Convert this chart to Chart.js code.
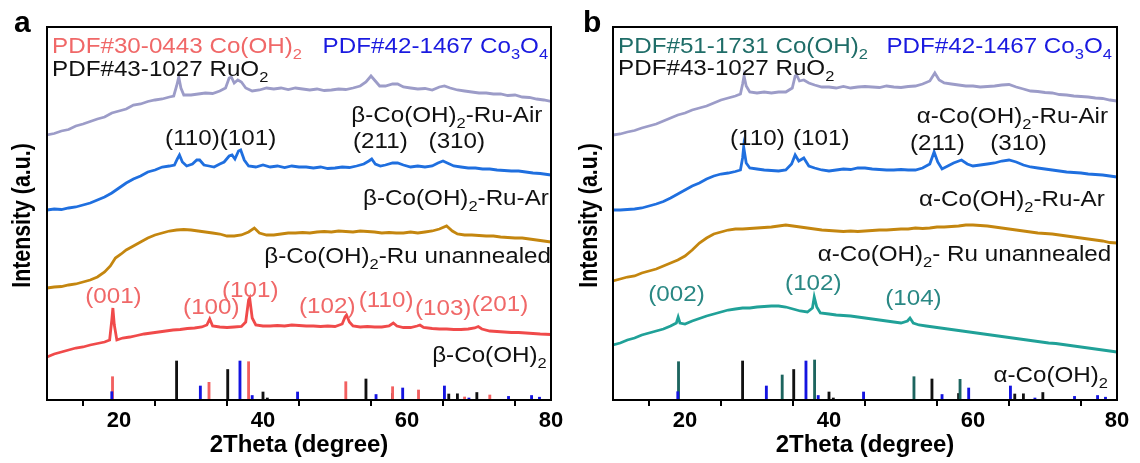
<!DOCTYPE html>
<html>
<head>
<meta charset="utf-8">
<script src="https://cdn.jsdelivr.net/npm/chart.js@4.4.0/dist/chart.umd.min.js"></script>
<style>
body { margin: 0; background: #fff; }
#wrap { position: relative; width: 1140px; height: 463px; }
.panel { position: absolute; top: 0; width: 570px; height: 463px; }
</style>
</head>
<body>
<div id="wrap">
  <div class="panel" style="left:0"><canvas id="chartA"></canvas></div>
  <div class="panel" style="left:570px"><canvas id="chartB"></canvas></div>
</div>
<script>
// x axis
const thetaMin = 10, thetaMax = 80;
const tickLabels = [20, 40, 60, 80];

// panel a curves: [2theta, intensity a.u.]
const airA = [[10,265],[11,266.5],[12,269],[13,270.5],[14,274],[15,276],[16,278.5],[17,281],[18,283],[19,287],[20,289],[21,291],[22,295],[23,296],[24,298.5],[25,300],[26,301],[27,303],[27.6,304],[28,314],[28.3,323],[28.6,312],[29,305],[30,305],[31,306],[32,307],[33,306.5],[34,309],[34.8,312],[35.3,322],[35.6,323],[36,317],[36.5,320],[37,318],[37.6,312],[38.5,309],[39.5,310],[40.5,312],[41.5,311],[42.5,312],[43.5,310.5],[44.5,312],[45.5,311],[46.5,310],[47.5,311],[48.5,309.5],[49.5,310],[50.5,311],[51.5,310.5],[52.5,312],[53.5,314],[54.3,318],[55,324],[55.6,319],[56.2,314],[57,314],[58,316],[58.7,316],[59.5,313],[60.5,312],[61.5,311],[62.5,311.5],[63.5,310],[64.5,313],[65.2,314],[66,312],[67,310],[68,309],[69,308],[70,307],[71,307],[72,306],[73,306],[74,304.5],[75,305],[76,303],[77,302.5],[78,301],[79,300],[80,298.5]];
const arA = [[10,190],[11,191],[12,190.5],[13,192],[14,193],[15,195],[16,197],[17,200],[18,203],[19,207],[20,212],[21,217],[22,221],[23,224],[24,228],[25,230],[26,233],[27,234],[27.7,235],[28.1,241],[28.4,245],[28.8,238],[29.4,234],[30.2,236],[30.8,240],[31.2,240],[31.8,235],[32.5,234],[33.2,233],[34,236],[34.6,238],[35.3,244],[35.7,245],[36.1,241],[36.6,249],[36.9,250],[37.4,240],[38,234],[39,233],[40,235],[41,233],[42,234],[43,232.5],[44,234],[45,233],[46,233],[47,232],[48,233],[49,231.5],[50,232],[51,233],[52,232.5],[53,234],[54,236],[54.7,239],[55.1,241],[55.6,236],[56.3,234],[57,235],[58,237],[58.7,237],[59.5,235],[60.5,233],[61.5,234],[62.5,233],[63.5,234],[64.3,237],[65,239],[65.6,237],[66.5,234],[67.5,233],[68.5,232],[69.5,232],[70.5,231],[71.5,231],[72.5,230],[73.5,229.5],[74.5,229],[75.5,229],[76.5,228],[77.5,227],[78.5,226.5],[79.5,225.5],[80,225]];
const unA = [[10,112],[11,113],[12,113.5],[13,115],[14,116],[15,118],[16,120],[17,123],[18,128],[18.8,134],[19.5,142],[20.3,146],[21,150],[22,154],[23,158],[24,162],[25,165],[26,167],[27,169],[28,170],[29,170.5],[30,170],[31,169],[32,168],[33,167],[34,166],[35,164],[36,164],[37,165],[38,168],[38.8,172],[39.5,167],[40.5,165],[41.5,165],[42.5,166],[43.5,167],[44.5,167],[45.5,167.5],[46.5,167],[47.5,168],[48.5,168.5],[49.5,168],[50.5,169],[51.5,168.5],[52.5,168],[53.5,169],[54.5,168.5],[55.5,168],[56.5,167],[57.5,167.5],[58.5,167],[59.5,167],[60.5,168],[61.5,167],[62.5,168],[63.5,169],[64.5,171],[65.5,174],[66.3,169],[67,166],[68,165],[69,165],[70,164.5],[71,164],[72,164],[73,163],[74,162.5],[75,162],[76,162],[77,161],[78,160],[79,159],[80,158]];
const bareA = [[10,43],[11,46],[12,48],[13,50],[14,52],[15,53],[16,55],[17,56.5],[18,58],[18.7,60],[19,80],[19.15,92],[19.35,75],[19.7,60],[20.5,62],[21.5,63],[22.5,64.5],[23.5,66],[24.5,67],[25.5,68],[26.5,69],[27.5,70],[28.5,70.5],[29.5,71.5],[30.5,72],[31.5,73],[32.2,75],[32.6,81],[33,74],[34,73],[35,72.5],[36,73],[37,73.5],[37.6,78],[38,100],[38.15,102],[38.5,82],[39,75],[40,74],[41,74],[42,74.5],[43,74],[44,75],[45,74.5],[46,74],[47,74],[48,73.5],[49,74],[50,73.5],[51,76],[51.4,83],[51.6,85],[52,78],[52.5,74],[53.5,73],[54.5,73.5],[55.5,73],[56.5,73],[57.5,74],[58.1,77],[58.6,74],[59.5,72.5],[60.5,72.5],[61.4,74],[61.8,75],[62.3,72.5],[63.5,71.5],[64.5,71],[65.5,71],[66.5,70.5],[67.5,70.5],[68.5,71],[69.4,72],[69.9,73.5],[70.4,71],[71.5,69],[72.5,68.5],[73.5,68],[74.5,67.5],[75.5,67.5],[76.5,67],[77.5,66.5],[78.5,66],[80,65.5]];

// panel b curves
const airB = [[10,265],[11,266],[12,268],[13,269.5],[14,272],[15,274],[16,276],[17,279],[18,282],[19,285],[20,287],[21,290],[22,292],[23,294],[24,297],[25,300],[26,302],[27,304],[27.7,306],[28,316],[28.2,324],[28.5,314],[29,308],[30,307],[31,308],[32,307],[33,308],[34,308],[34.9,312],[35.3,324],[35.5,325],[35.9,319],[36.5,320],[37.2,317],[38,315],[39,313],[40,313],[41,312],[42,313.5],[43,312],[44,313],[45,313.5],[46,313],[47,312.5],[48,314],[49,313],[50,312.5],[51,313.5],[52,314],[53,316],[54,319],[54.7,327],[55.3,320],[56,317],[57,316],[58,315],[59,314],[60,314],[61,313],[62,313.5],[63,314],[64,315],[65,315.5],[66,313],[67,311],[68,309],[69,308.5],[70,307.5],[71,307],[72,305.5],[73,305],[74,304],[75,303.5],[76,303],[77,302],[78,301.5],[79,300],[80,299]];
const arB = [[10,190],[11,190],[12,190.5],[13,191],[14,192],[15,194],[16,196],[17,198.5],[18,202],[19,206],[20,210],[21,214],[22,217],[23,221],[24,224],[25,226],[26,227],[27,228.5],[27.7,230],[28,242],[28.15,253],[28.5,237],[29,232],[30,231],[31,230],[32,229.5],[33,229],[34,230],[34.8,236],[35.3,245],[35.8,239],[36.5,242],[37.2,234],[38,232],[39,230],[40,229],[41,230],[42,231],[43,230.5],[44,232],[45,232],[46,231],[47,230.5],[48,230],[49,230],[50,230.5],[51,230],[52,230],[53,232],[54,236],[54.6,248],[55.1,238],[55.7,231],[56.5,234],[57.3,237],[58.4,240],[59.2,236],[60,234],[61,235],[62,236],[63,237],[64,239],[65,240],[66,238],[67,235],[68,233],[69,232],[70,231],[71,230],[72,229],[73,228],[74,227.5],[75,227],[76,226],[77,225.5],[78,225],[79,224],[80,223]];
const unB = [[10,119],[11,121],[12,123],[13,124],[14,127],[15,129],[16,131],[17,134],[18,137],[19,140],[20,144],[21,150],[22,157],[23,162],[24,166],[25,168],[26,170],[27,171],[28,171],[29,171.5],[30,172],[31,172.5],[32,173],[33,174],[34,175],[35,174],[36,173],[37,172],[38,171],[39,170],[40,169.5],[41,169],[42,168.5],[43,169],[44,168.5],[45,169],[46,169.5],[47,170],[48,170],[49,170.5],[50,171],[51,171],[52,172],[53,171.5],[54,172],[55,173],[56,173],[57,173.5],[58,174],[59,175],[60,175],[61,174.5],[62,174],[63,173],[64,172],[65,171],[66,170],[67,169],[68,168],[69,167],[70,166.5],[71,166],[72,165],[73,164],[74,163],[75,162],[76,161],[77,160],[78,159],[79,157.5],[80,157]];
const bareB = [[10,55],[11,57],[12,60],[13,62],[14,65],[15,67],[16,69],[17,71],[18,74],[18.8,77],[19.05,83],[19.3,77],[20,76],[21,79],[22,81.5],[23,84],[24,86],[25,88],[26,90],[27,91],[28,92],[29,92],[30,93],[31,93.5],[32,94],[33,94],[34,93],[35,91],[36,89],[37,88],[37.7,92],[37.95,103],[38.3,93],[38.8,87],[40,86],[41,85],[42,84.5],[43,84],[44,83],[45,82],[46,81],[47,80],[48,79],[49,78],[50,77],[50.9,79],[51.25,82],[51.7,77],[52.5,75],[53.5,74],[54.5,73],[55.5,72],[56.5,71],[57.5,70],[58.5,69],[59.5,68],[60.5,67],[61.5,66],[62.5,65],[63.5,64],[64.5,63],[65.5,62],[66.5,61],[67.5,60],[68.5,59],[69.5,58],[70.5,57],[71.5,56.5],[72.5,55.5],[73.5,54.5],[74.5,53.5],[75.5,52.5],[76.5,51.5],[77.5,50.5],[78.5,49.5],[80,48]];

// reference patterns (stick heights)
const betaCoOH2Sticks = [[19.1,23.3],[32.5,17.7],[38.0,38.3],[51.5,18.3],[58.0,13.3],[61.6,10],[68.0,3],[71.5,5]];
const alphaCoOH2Sticks = [[19.1,38.3],[33.5,25],[38.0,40],[51.8,23.3],[58.2,20.7]];
const ruo2Sticks = [[28.0,39],[35.1,30.5],[40.0,8],[40.6,2],[54.3,21],[58.0,6.5],[65.8,6],[67.0,6.2],[69.7,7.5]];
const co3o4Sticks = [[19.0,8.3],[31.3,14],[36.8,39],[38.5,4.5],[44.8,8],[55.7,5.5],[59.4,12],[65.2,14],[68.6,2],[74.1,3.6],[77.3,4.5],[78.4,2.8]];

const C = {
  air: '#9c9cc8', ar: '#1f6fdf', un: '#c4860f', red: '#f04a4a', teal: '#20a198',
  stickRed: '#f26060', stickTeal: '#1d655f', stickBlack: '#111111', stickBlue: '#1414e0',
  txtRed: '#f06868', txtTeal: '#2a8884', txtDarkTeal: '#1f6d68', txtBlue: '#1a1ae0', txtBlack: '#111111'
};
const FONT = '"Liberation Sans", Arial, sans-serif';

const labelsA = [
  { text: 'PDF#30-0443 Co(OH)_2', x: 10.7, y: 347, color: C.txtRed, align: 'left' },
  { text: 'PDF#42-1467 Co_3O_4', x: 79.6, y: 347, color: C.txtBlue, align: 'right' },
  { text: 'PDF#43-1027 RuO_2', x: 10.7, y: 324, color: C.txtBlack, align: 'left' },
  { text: 'β-Co(OH)_2-Ru-Air', x: 78.8, y: 278, color: C.txtBlack, align: 'right' },
  { text: '(110)(101)', x: 26.4, y: 255, color: C.txtBlack, align: 'left' },
  { text: '(211)', x: 52.5, y: 252, color: C.txtBlack, align: 'left' },
  { text: '(310)', x: 63.0, y: 252, color: C.txtBlack, align: 'left' },
  { text: 'β-Co(OH)_2-Ru-Ar', x: 79.7, y: 195, color: C.txtBlack, align: 'right' },
  { text: 'β-Co(OH)_2-Ru unannealed', x: 80, y: 137, color: C.txtBlack, align: 'right' },
  { text: '(001)', x: 15.3, y: 97, color: C.txtRed, align: 'left' },
  { text: '(100)', x: 28.9, y: 86, color: C.txtRed, align: 'left' },
  { text: '(101)', x: 34.3, y: 103, color: C.txtRed, align: 'left' },
  { text: '(102)', x: 45.0, y: 87, color: C.txtRed, align: 'left' },
  { text: '(110)', x: 53.3, y: 93, color: C.txtRed, align: 'left' },
  { text: '(103)', x: 61.1, y: 85, color: C.txtRed, align: 'left' },
  { text: '(201)', x: 69.0, y: 89, color: C.txtRed, align: 'left' },
  { text: 'β-Co(OH)_2', x: 79.4, y: 38, color: C.txtBlack, align: 'right' }
];
const labelsB = [
  { text: 'PDF#51-1731 Co(OH)_2', x: 10.7, y: 347, color: C.txtDarkTeal, align: 'left' },
  { text: 'PDF#42-1467 Co_3O_4', x: 79.3, y: 347, color: C.txtBlue, align: 'right' },
  { text: 'PDF#43-1027 RuO_2', x: 10.7, y: 325, color: C.txtBlack, align: 'left' },
  { text: 'α-Co(OH)_2-Ru-Air', x: 78.75, y: 277, color: C.txtBlack, align: 'right' },
  { text: '(110)', x: 26.25, y: 255, color: C.txtBlack, align: 'left' },
  { text: '(101)', x: 35.0, y: 255, color: C.txtBlack, align: 'left' },
  { text: '(211)', x: 51.25, y: 250, color: C.txtBlack, align: 'left' },
  { text: '(310)', x: 62.4, y: 250, color: C.txtBlack, align: 'left' },
  { text: 'α-Co(OH)_2-Ru-Ar', x: 78.3, y: 194, color: C.txtBlack, align: 'right' },
  { text: 'α-Co(OH)_2- Ru unannealed', x: 79.2, y: 139, color: C.txtBlack, align: 'right' },
  { text: '(002)', x: 14.9, y: 99, color: C.txtTeal, align: 'left' },
  { text: '(102)', x: 33.9, y: 110, color: C.txtTeal, align: 'left' },
  { text: '(104)', x: 47.8, y: 95, color: C.txtTeal, align: 'left' },
  { text: 'α-Co(OH)_2', x: 78.75, y: 18, color: C.txtBlack, align: 'right' }
];

// split "Co(OH)_2" into normal / subscript runs
function parseRich(text) {
  const runs = [];
  let buf = '';
  for (let i = 0; i < text.length; i++) {
    if (text[i] === '_' && i + 1 < text.length) {
      if (buf) runs.push({ t: buf, sub: false });
      buf = '';
      runs.push({ t: text[i + 1], sub: true });
      i++;
    } else {
      buf += text[i];
    }
  }
  if (buf) runs.push({ t: buf, sub: false });
  return runs;
}

function drawRich(ctx, text, x, y, align, color, size, stretch) {
  const runs = parseRich(text);
  const subSize = Math.round(size * 0.66);
  let w = 0;
  runs.forEach(r => {
    ctx.font = (r.sub ? subSize : size) + 'px ' + FONT;
    r.w = ctx.measureText(r.t).width;
    w += r.w;
  });
  ctx.save();
  ctx.translate(align === 'right' ? x - w * stretch : x, y);
  ctx.scale(stretch, 1);
  ctx.fillStyle = color;
  ctx.textBaseline = 'alphabetic';
  ctx.textAlign = 'left';
  let cx = 0;
  runs.forEach(r => {
    ctx.font = (r.sub ? subSize : size) + 'px ' + FONT;
    ctx.fillText(r.t, cx, r.sub ? size * 0.28 : 0);
    cx += r.w;
  });
  ctx.restore();
}

const xrdPlugin = {
  id: 'xrdText',
  afterDatasetsDraw(chart, args, opts) {
    const { ctx, chartArea: a, scales } = chart;
    ctx.save();
    ctx.strokeStyle = '#000';
    ctx.lineWidth = 2;
    ctx.strokeRect(a.left, a.top, a.right - a.left, a.bottom - a.top);
    (opts.items || []).forEach(it => {
      drawRich(ctx, it.text, scales.x.getPixelForValue(it.x), scales.y.getPixelForValue(it.y),
        it.align, it.color, 22, 1.1);
    });
    // panel letter
    ctx.font = 'bold 30px ' + FONT;
    ctx.fillStyle = '#000';
    ctx.textAlign = 'left';
    ctx.textBaseline = 'alphabetic';
    ctx.fillText(opts.letter, opts.letterX, 32);
    // y axis title, tall and condensed like the original
    ctx.translate(opts.yTitleX, (a.top + a.bottom) / 2 + 2);
    ctx.rotate(-Math.PI / 2);
    ctx.scale(0.82, 1);
    ctx.font = 'bold 26px ' + FONT;
    ctx.textAlign = 'center';
    ctx.textBaseline = 'middle';
    ctx.fillText('Intensity (a.u.)', 0, 0);
    ctx.restore();
  }
};

function toXY(arr) { return arr.map(p => ({ x: p[0], y: p[1] })); }

function lineSet(arr, color) {
  return { type: 'line', data: toXY(arr), borderColor: color, borderWidth: 2.8,
    pointRadius: 0, tension: 0, fill: false, order: 1 };
}
function stickSet(arr, color, order) {
  return { type: 'bar', data: toXY(arr), backgroundColor: color, borderWidth: 0,
    barThickness: 2.2, grouped: false, order: order };
}

function makePanel(id, curves, sticks, items, yWidth, padRight, letter, letterX, yTitleX) {
  new Chart(document.getElementById(id), {
    type: 'line',
    data: { datasets: curves.concat(sticks) },
    options: {
      responsive: true,
      maintainAspectRatio: false,
      devicePixelRatio: 1,
      animation: false,
      layout: { padding: { top: 27, right: padRight, left: 0, bottom: 0 } },
      plugins: {
        legend: { display: false },
        tooltip: { enabled: false },
        xrdText: { items: items, letter: letter, letterX: letterX, yTitleX: yTitleX }
      },
      scales: {
        x: {
          type: 'linear', min: thetaMin, max: thetaMax, offset: false,
          border: { display: true, color: '#000', width: 2 },
          grid: { display: true, drawOnChartArea: false, drawTicks: true, tickLength: 6, color: '#000', lineWidth: 2 },
          ticks: {
            stepSize: 10, color: '#000', padding: 2, maxRotation: 0,
            font: { family: FONT, size: 22, weight: 'bold' },
            callback: v => tickLabels.includes(v) ? String(v) : ''
          },
          title: { display: true, text: '2Theta (degree)', color: '#000',
            font: { family: FONT, size: 24, weight: 'bold' }, padding: { top: 0, bottom: 3 } },
          afterFit: s => { s.height = 63; }
        },
        y: {
          min: 0, max: 373,
          border: { display: true, color: '#000', width: 2 },
          grid: { display: false },
          ticks: { display: false },
          title: { display: false },
          afterFit: s => { s.width = yWidth; }
        }
      }
    },
    plugins: [xrdPlugin]
  });
}

makePanel('chartA',
  [lineSet(airA, C.air), lineSet(arA, C.ar), lineSet(unA, C.un), lineSet(bareA, C.red)],
  [stickSet(co3o4Sticks, C.stickBlue, 2), stickSet(betaCoOH2Sticks, C.stickRed, 3), stickSet(ruo2Sticks, C.stickBlack, 4)],
  labelsA, 47, 19, 'a', 14, 23);

makePanel('chartB',
  [lineSet(airB, C.air), lineSet(arB, C.ar), lineSet(unB, C.un), lineSet(bareB, C.teal)],
  [stickSet(co3o4Sticks, C.stickBlue, 2), stickSet(alphaCoOH2Sticks, C.stickTeal, 3), stickSet(ruo2Sticks, C.stickBlack, 4)],
  labelsB, 43, 23, 'b', 13, 20);
</script>
</body>
</html>
